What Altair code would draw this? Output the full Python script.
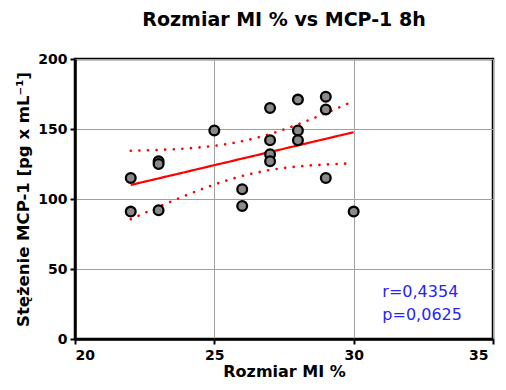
import altair as alt
import numpy as np
import pandas as pd

# Data
rozmiar = [22, 22, 23, 23, 23, 25, 26, 26, 27, 27, 27, 27, 28, 28, 28, 29, 29, 29, 30]
mcp1 = [115, 91, 127, 125, 92, 149, 107, 95, 165, 142, 132, 127, 171, 149, 142, 173, 164, 115, 91]
stats_text = ["r=0,4354", "p=0,0625"]
stats_x = [31.03, 31.03]
stats_y = [30, 13.6]

pts = pd.DataFrame({"x": rozmiar, "y": mcp1})

# Linear fit with 95% confidence band of the regression line
x = np.array(rozmiar, float)
y = np.array(mcp1, float)
n = len(x)
b, a = np.polyfit(x, y, 1)
res = y - (a + b * x)
s = np.sqrt(np.sum(res ** 2) / (n - 2))
sxx = np.sum((x - x.mean()) ** 2)
t = 2.1098  # t(0.975, 17)
xg = np.linspace(x.min(), x.max(), 60)
fit = a + b * xg
se = s * np.sqrt(1.0 / n + (xg - x.mean()) ** 2 / sxx)
band = pd.DataFrame({"x": xg, "fit": fit, "lo": fit - t * se, "hi": fit + t * se})

font = "DejaVu Sans"
xscale = alt.Scale(domain=[20, 35], nice=False, zero=False)
yscale = alt.Scale(domain=[0, 200], nice=False)

xaxis = alt.Axis(title="Rozmiar MI %", values=[20, 25, 30, 35], grid=True, gridColor="#a0a0a0",
                 gridWidth=1, domainColor="black", domainWidth=2.5, tickColor="black", tickSize=5,
                 tickWidth=2, labelFont=font, labelFontSize=14, labelFontWeight="bold",
                 labelColor="black", titleFont=font, titleFontSize=16, titleFontWeight="bold",
                 titleColor="black", labelPadding=4, titlePadding=1,
                 labelOffset={"expr": "datum.value == 35 ? -5 : 0"})
yaxis = alt.Axis(title="Stężenie MCP-1 [pg x mL⁻¹]", values=[0, 50, 100, 150, 200], grid=True,
                 gridColor="#a0a0a0", gridWidth=1, domainColor="black", domainWidth=2.5,
                 tickColor="black", tickSize=5, tickWidth=2, labelFont=font, labelFontSize=14,
                 labelFontWeight="bold", labelColor="black", titleFont=font, titleFontSize=16.5,
                 titleFontWeight="bold", titleColor="black", labelPadding=3, titlePadding=6)

base_pts = alt.Chart(pts).mark_point(filled=True, fill="#8a8a8a", stroke="black", strokeWidth=2.3,
                                     size=95, opacity=1).encode(
    x=alt.X("x:Q", scale=xscale, axis=xaxis),
    y=alt.Y("y:Q", scale=yscale, axis=yaxis),
)

fit_line = alt.Chart(band).mark_line(color="#ff0000", strokeWidth=2.2).encode(
    x=alt.X("x:Q", scale=xscale), y=alt.Y("fit:Q", scale=yscale))
hi_line = alt.Chart(band).mark_line(color="#ff0000", strokeWidth=2.6, strokeDash=[0.1, 8.5],
                                    strokeCap="round").encode(
    x=alt.X("x:Q", scale=xscale), y=alt.Y("hi:Q", scale=yscale))
lo_line = alt.Chart(band).mark_line(color="#ff0000", strokeWidth=2.6, strokeDash=[0.1, 8.5],
                                    strokeCap="round").encode(
    x=alt.X("x:Q", scale=xscale), y=alt.Y("lo:Q", scale=yscale))

txt = alt.Chart(pd.DataFrame({"x": stats_x, "y": stats_y, "t": stats_text})).mark_text(
    align="left", baseline="alphabetic", font=font, fontSize=16, color="#2424ff").encode(
    x=alt.X("x:Q", scale=xscale), y=alt.Y("y:Q", scale=yscale), text="t:N")

chart = alt.layer(fit_line, hi_line, lo_line, base_pts, txt).properties(
    width=418, height=280,
    title=alt.TitleParams("Rozmiar MI % vs MCP-1 8h", font=font, fontSize=19, fontWeight="bold",
                          color="black", anchor="middle", offset=22),
    autosize=alt.AutoSizeParams(type="none"),
    padding={"left": 67, "top": 51, "right": 5, "bottom": 43},
).configure_view(stroke="black", strokeWidth=2.5)

chart.save("out.html", embed_options={"renderer": "svg", "actions": False})
